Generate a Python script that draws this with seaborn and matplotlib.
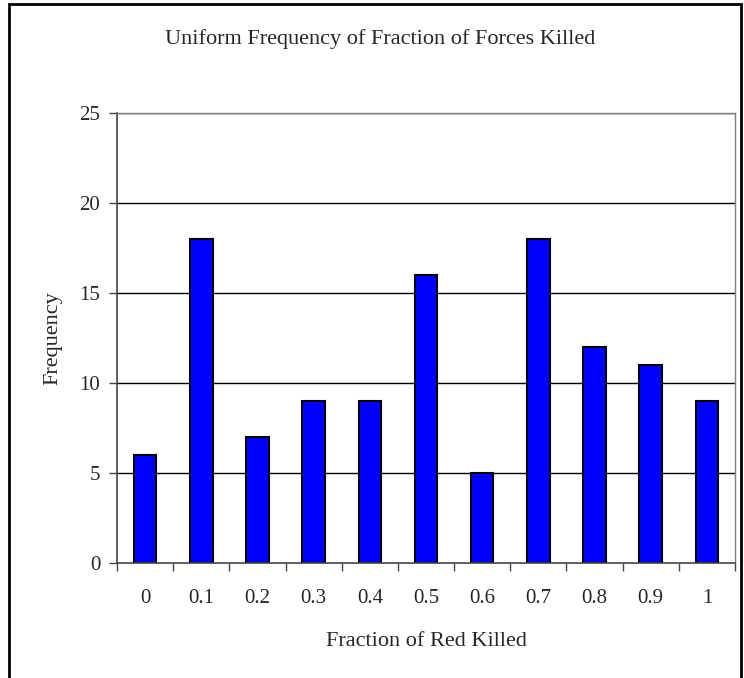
import matplotlib
matplotlib.use("Agg")
import matplotlib.pyplot as plt
import seaborn as sns
import pandas as pd
from matplotlib.patches import Rectangle

categories = ["0", "0.1", "0.2", "0.3", "0.4", "0.5", "0.6", "0.7", "0.8", "0.9", "1"]
frequency = [6, 18, 7, 9, 9, 16, 5, 18, 12, 11, 9]
yticks = [0, 5, 10, 15, 20, 25]

sns.set_theme(style="white")
plt.rcParams["font.family"] = ["Liberation Serif", "DejaVu Serif"]

df = pd.DataFrame({"cat": categories, "freq": frequency})

fig = plt.figure(figsize=(7.44, 6.78), dpi=100)
ax = fig.add_axes([117/744, (678-563)/678, (735-117)/744, (563-113)/678])

sns.barplot(data=df, x="cat", y="freq", order=categories, color="#0000FF",
            width=0.4, edgecolor="black", linewidth=1.5, saturation=1, ax=ax)

ax.set_ylim(0, 25)
ax.set_xlim(-0.5, len(categories) - 0.5)
ax.set_yticks(yticks)
ax.set_yticklabels([str(t) for t in yticks], fontsize=15)
ax.set_xticks(range(len(categories)))
ax.set_xticklabels(categories, fontsize=15)
ax.tick_params(axis="x", length=0, pad=18.5)
ax.tick_params(axis="y", length=6, width=1, color="#444444", pad=6, direction="out", left=True)
# minor ticks on x at category boundaries
ax.set_xticks([i - 0.5 for i in range(len(categories) + 1)], minor=True)
ax.tick_params(axis="x", which="minor", length=6, width=1, color="#444444", direction="out", bottom=True)

for y in yticks[1:]:
    ax.axhline(y, color="black", linewidth=1, zorder=0)

for s in ["left", "bottom"]:
    ax.spines[s].set_color("#444444")
    ax.spines[s].set_linewidth(1.2)
for s in ["top", "right"]:
    ax.spines[s].set_color("#808080")
    ax.spines[s].set_linewidth(1)

ax.set_xlabel("Fraction of Red Killed", fontsize=16, labelpad=17.5)
ax.set_ylabel("Frequency", fontsize=16, labelpad=12)

fig.text(380/744, 1 - 39/678, "Uniform Frequency of Fraction of Forces Killed",
         ha="center", va="center", fontsize=16)

fig.patches.append(Rectangle((9/744, -0.1), (741-9)/744, 1.1 - 4/678,
                             transform=fig.transFigure, fill=False,
                             edgecolor="black", linewidth=2, figure=fig))

fig.savefig("out.png", dpi=100)
